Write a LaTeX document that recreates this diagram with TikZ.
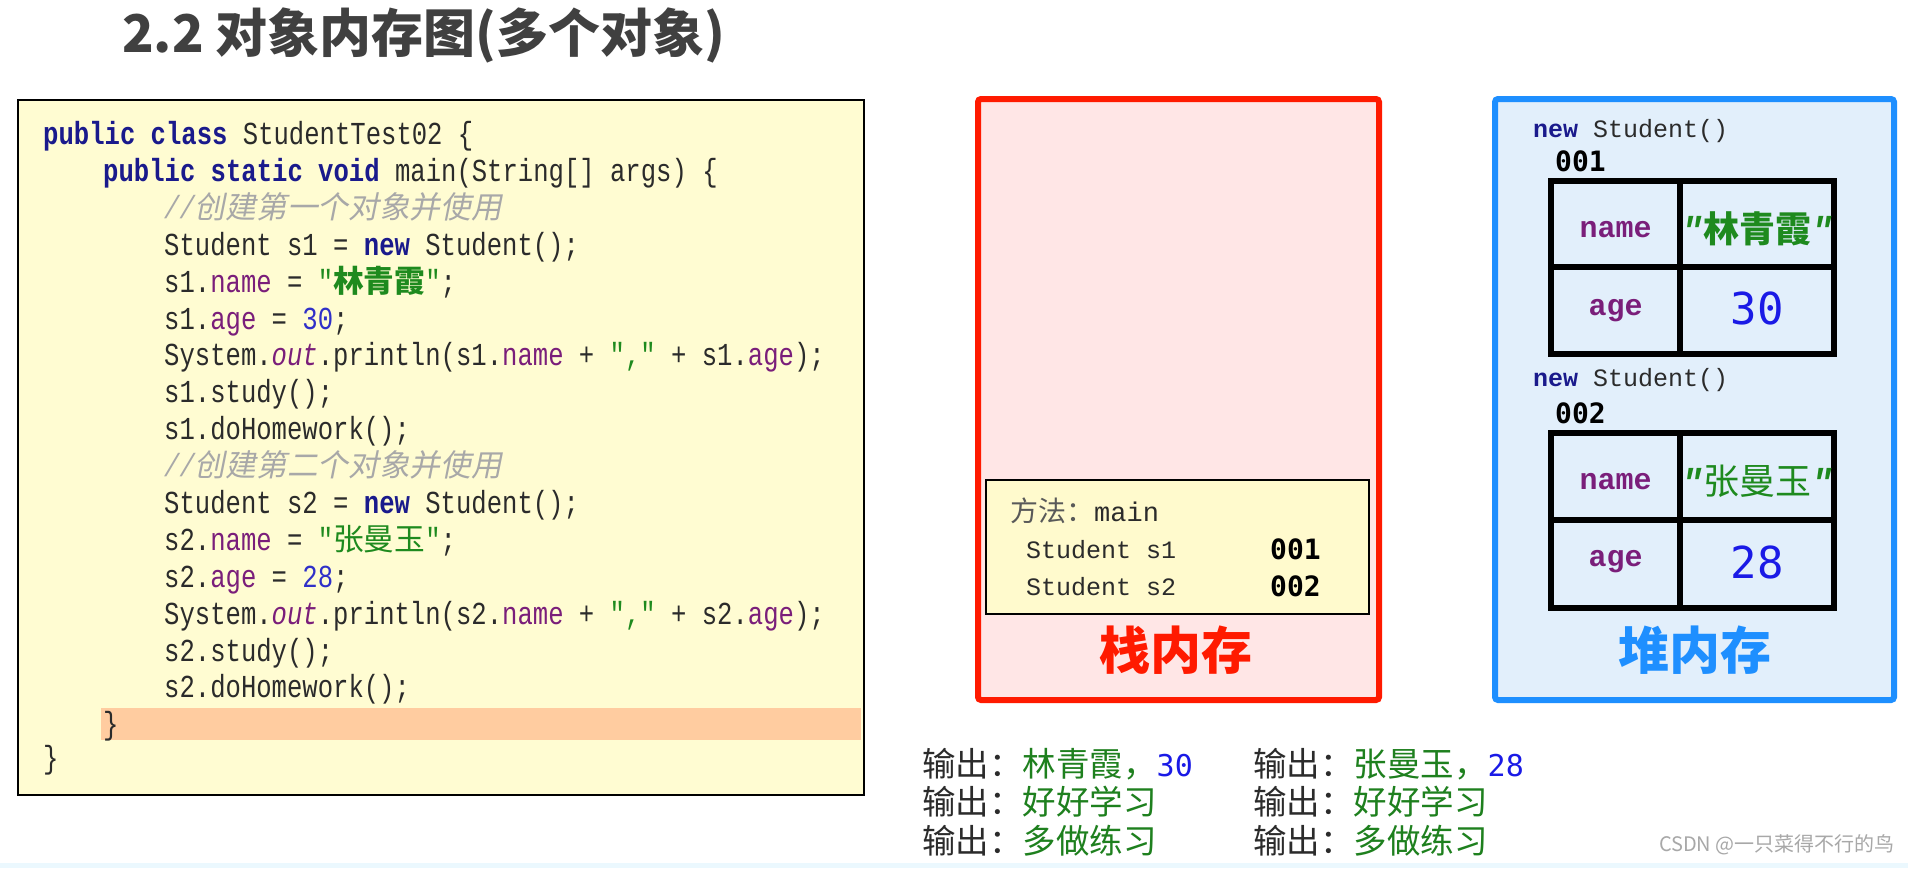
\documentclass[tikz,border=0pt]{standalone}
\usepackage{fontspec}
\newfontfamily\cjk{Noto Sans CJK SC}
\newfontfamily\cjksl[FakeSlant=0.2]{Noto Sans CJK SC}
\newfontfamily\code[FakeStretch=0.8]{Liberation Mono}
\newfontfamily\mono{Liberation Mono}
\newfontfamily\dmono{DejaVu Sans Mono}
\definecolor{titlec}{HTML}{404040}
\definecolor{txtc}{HTML}{2B2B2B}
\definecolor{kwc}{HTML}{1A1A8C}
\definecolor{fldc}{HTML}{7A1E7A}
\definecolor{strc}{HTML}{1E8A1E}
\definecolor{numc}{HTML}{3030C8}
\definecolor{cmtc}{HTML}{A8A8A8}
\definecolor{codebg}{HTML}{FFFCD2}
\definecolor{hlc}{HTML}{FFCCA0}
\definecolor{stackbg}{HTML}{FFE6E6}
\definecolor{stackbd}{HTML}{FF1A00}
\definecolor{heapbg}{HTML}{E2EFFB}
\definecolor{heapbd}{HTML}{1E8FFF}
\definecolor{methbg}{HTML}{FFFACD}
\definecolor{valblue}{HTML}{1A1AE6}
\definecolor{outgreen}{HTML}{1E801E}
\definecolor{wmc}{HTML}{A8A8A8}
\newcommand\ckw[1]{{\color{kwc}\bfseries #1}}
\newcommand\cfld[1]{{\color{fldc}#1}}
\newcommand\cfldi[1]{{\color{fldc}\itshape #1}}
\newcommand\cnum[1]{{\color{numc}#1}}
\newcommand\cstr[1]{{\color{strc}#1}}
\newcommand\czh[1]{{\cjk\fontsize{30.7}{37}\selectfont #1}}
\newcommand\czhb[1]{{\cjk\bfseries\fontsize{30.7}{37}\selectfont #1}}
\newcommand\ccmt[1]{{\color{cmtc}{\itshape //}{\cjksl\fontsize{30.7}{37}\selectfont #1}}}
\newcommand\ogrn[1]{{\color{outgreen}#1}}
\newcommand\oblu[1]{{\color{valblue}\dmono\fontsize{30}{36}\selectfont #1}}
\newcommand\hq{{\mono\bfseries\itshape "}}
\begin{document}
\begin{tikzpicture}[x=1pt,y=-1pt,
  code/.style={anchor=base west,inner sep=0pt,text=txtc,font=\code\fontsize{32}{37}\selectfont},
  box/.style={anchor=north west,inner sep=0pt,outer sep=0pt},
  cell/.style={draw=black,line width=6pt,inner sep=0pt,anchor=north west},
  fname/.style={text=fldc,font=\mono\bfseries\fontsize{30}{34}\selectfont},
  outl/.style={anchor=base west,inner sep=0pt,text=txtc,font=\cjk\fontsize{33.5}{40}\selectfont},
  small/.style={anchor=base west,inner sep=0pt,text=txtc,font=\mono\fontsize{25}{30}\selectfont},
  addr/.style={anchor=base west,inner sep=0pt,text=black,font=\dmono\bfseries\fontsize{28}{32}\selectfont},
  big/.style={inner sep=0pt,font=\cjk\bfseries\fontsize{51}{56}\selectfont}]
\useasboundingbox (0,0) rectangle (1908,868);
\fill[white] (0,0) rectangle (1908,868);
\fill[cyan!8] (0,863) rectangle (1908,868);

% title
\node[anchor=west,inner sep=0pt,text=titlec,font=\cjk\bfseries\fontsize{52}{60}\selectfont] (title) at (122,35) {2.2 对象内存图(多个对象)};

% code box
\node[box,draw=black,line width=2.5pt,fill=codebg,minimum width=846pt,minimum height=695pt] (codebox) at (18,100) {};
\node[box,fill=hlc,minimum width=760pt,minimum height=32pt] (hl) at (101,708) {};

\node[code] (l1) at (43,144) {\ckw{public class} StudentTest02 \{};
\node[code] (l2) at (103,181) {\ckw{public static void} main(String[] args) \{};
\node[code] (l3) at (164,218) {\ccmt{创建第一个对象并使用}};
\node[code] (l4) at (164,255) {Student s1 = \ckw{new} Student();};
\node[code] (l5) at (164,292) {s1.\cfld{name} = \cstr{"\czhb{林青霞}"};};
\node[code] (l6) at (164,329) {s1.\cfld{age} = \cnum{30};};
\node[code] (l7) at (164,365) {System.\cfldi{out}.println(s1.\cfld{name} + \cstr{","} + s1.\cfld{age});};
\node[code] (l8) at (164,402) {s1.study();};
\node[code] (l9) at (164,439) {s1.doHomework();};
\node[code] (l10) at (164,476) {\ccmt{创建第二个对象并使用}};
\node[code] (l11) at (164,513) {Student s2 = \ckw{new} Student();};
\node[code] (l12) at (164,550) {s2.\cfld{name} = \cstr{"\czh{张曼玉}"};};
\node[code] (l13) at (164,587) {s2.\cfld{age} = \cnum{28};};
\node[code] (l14) at (164,624) {System.\cfldi{out}.println(s2.\cfld{name} + \cstr{","} + s2.\cfld{age});};
\node[code] (l15) at (164,661) {s2.study();};
\node[code] (l16) at (164,697) {s2.doHomework();};
\node[code] (l17) at (103,734) {\}};
\node[code] (l18) at (43,768) {\}};

% stack
\node[box,draw=stackbd,line width=6pt,fill=stackbg,rounded corners=3pt,minimum width=401pt,minimum height=601pt] (stack) at (978,99) {};
\node[box,draw=black,line width=2.5pt,fill=methbg,minimum width=383pt,minimum height=134pt] (meth) at (986,480) {};
\node[anchor=base west,inner sep=0pt,text=black!65,font=\cjk\fontsize{28}{32}\selectfont] (mname) at (1010,521) {方法：{\mono\fontsize{27}{30}\selectfont\color{txtc}main}};
\node[small] (s1v) at (1026,558) {Student s1};
\node[addr] (s1a) at (1270,559) {001};
\node[small] (s2v) at (1026,595) {Student s2};
\node[addr] (s2a) at (1270,596) {002};
\node[big,text=stackbd] (stacklbl) at (1176,650) {栈内存};

% heap
\node[box,draw=heapbd,line width=6pt,fill=heapbg,rounded corners=3pt,minimum width=399pt,minimum height=601pt] (heap) at (1495,99) {};
\node[small] (new1) at (1533,137) {\ckw{new} Student()};
\node[addr] (a1) at (1555,171) {001};
\node[cell,minimum width=129pt,minimum height=86pt] (t1n) at (1548,178) {};
\node[cell,minimum width=154pt,minimum height=86pt] (t1nv) at (1677,178) {};
\node[cell,minimum width=129pt,minimum height=87pt] (t1a) at (1548,264) {};
\node[cell,minimum width=154pt,minimum height=87pt] (t1av) at (1677,264) {};
\node[fname] (t1nt) at ([yshift=-6pt]t1n.center) {name};
\node[fname] (t1at) at (t1a.center) {age};
\node[text=strc,inner sep=0pt,font=\cjk\bfseries\fontsize{36}{40}\selectfont] (t1nvt) at ([yshift=-5pt]t1nv.center) {\hq 林青霞\hq};
\node[text=valblue,inner sep=0pt,font=\dmono\fontsize{44}{48}\selectfont] (t1avt) at ([yshift=2pt]t1av.center) {30};

\node[small] (new2) at (1533,386) {\ckw{new} Student()};
\node[addr] (a2) at (1555,423) {002};
\node[cell,minimum width=129pt,minimum height=87pt] (t2n) at (1548,430) {};
\node[cell,minimum width=154pt,minimum height=87pt] (t2nv) at (1677,430) {};
\node[cell,minimum width=129pt,minimum height=88pt] (t2a) at (1548,517) {};
\node[cell,minimum width=154pt,minimum height=88pt] (t2av) at (1677,517) {};
\node[fname] (t2nt) at ([yshift=-5pt]t2n.center) {name};
\node[fname] (t2at) at ([yshift=2pt]t2a.center) {age};
\node[text=strc,inner sep=0pt,font=\cjk\fontsize{36}{40}\selectfont] (t2nvt) at ([yshift=-5pt]t2nv.center) {\hq 张曼玉\hq};
\node[text=valblue,inner sep=0pt,font=\dmono\fontsize{44}{48}\selectfont] (t2avt) at ([yshift=2pt]t2av.center) {28};
\node[big,text=heapbd] (heaplbl) at (1695,650) {堆内存};

% output
\node[outl] (o1) at (922,776) {输出：\ogrn{林青霞，}\oblu{30}};
\node[outl] (o2) at (922,814) {输出：\ogrn{好好学习}};
\node[outl] (o3) at (922,853) {输出：\ogrn{多做练习}};
\node[outl] (o4) at (1253,776) {输出：\ogrn{张曼玉，}\oblu{28}};
\node[outl] (o5) at (1253,814) {输出：\ogrn{好好学习}};
\node[outl] (o6) at (1253,853) {输出：\ogrn{多做练习}};

% watermark
\node[anchor=base east,inner sep=0pt,text=wmc,font=\cjk\fontsize{20}{24}\selectfont] (wm) at (1895,851) {CSDN @一只菜得不行的鸟};
\end{tikzpicture}
\end{document}
